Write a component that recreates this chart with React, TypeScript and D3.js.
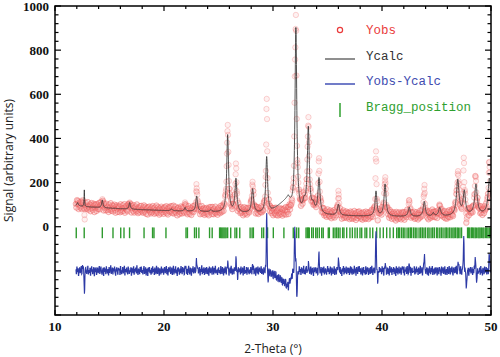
import React from "react";
import * as d3 from "d3";

// ---- axis ticks ----
const xMajorTicks = [10, 20, 30, 40, 50];
const yLabelTicks = [0, 200, 400, 600, 800, 1000];

// ---- background anchors (2-theta, intensity) ----
const bgX = [11.9, 13, 15, 17, 20, 24, 27, 29.6, 31.4, 31.9, 33, 36, 38, 41, 44, 46, 48, 50];
const bgObs = [95, 90, 84, 79, 73, 67, 62, 60, 58, 57, 55, 50, 48, 46, 45, 47, 52, 58];
const bgCalc = [95, 90, 84, 79, 73, 67, 62, 60, 125, 57, 55, 50, 48, 46, 45, 47, 52, 58];

// ---- calculated peaks: position, height above background, FWHM ----
const peakPos = [12.08, 12.69, 14.34, 16.85, 20.7, 21.93, 23.0, 24.3, 25.84, 26.6, 28.13, 29.42, 32.1, 32.85, 33.24, 33.7, 34.22, 36.0, 39.45, 40.28, 42.5, 43.88, 44.7, 45.3, 46.95, 47.55, 48.62, 49.85];
const peakHeight = [15, 75, 35, 30, 8, 16, 70, 8, 350, 150, 108, 255, 840, 40, 385, 35, 160, 50, 112, 145, 42, 68, 15, 38, 160, 105, 135, 160];
const peakFwhm = [0.15, 0.05, 0.14, 0.14, 0.2, 0.16, 0.18, 0.2, 0.2, 0.2, 0.22, 0.2, 0.2, 0.25, 0.22, 0.3, 0.22, 0.22, 0.2, 0.22, 0.22, 0.22, 0.2, 0.25, 0.28, 0.25, 0.28, 0.28];

// ---- misfit spikes in Yobs - Ycalc ----
const spikePos = [12.55, 12.7, 21.95, 23.0, 25.84, 26.6, 26.75, 28.13, 29.42, 29.55, 32.0, 32.1, 32.2, 33.24, 34.22, 36.0, 39.45, 39.6, 40.28, 42.5, 43.88, 47.0, 47.5, 47.75, 48.55, 48.7, 49.85];
const spikeAmp = [25, -85, 15, 50, 30, 55, -30, 20, 260, -40, 200, 40, -125, 30, 70, 60, 175, -40, 25, 30, 70, 40, 150, -90, 60, -50, 80];

// ---- Bragg reflection positions ----
const braggPos = [
  11.95, 12.68, 14.34, 15.32, 16.03, 16.33, 16.84, 18.17, 18.95, 19.08, 20.18, 22.02, 22.15, 22.8, 22.97, 23.2,
  24.18, 24.42, 25.1, 25.2, 25.3, 25.4, 25.5, 25.6, 25.7, 25.84, 26.12, 26.51, 26.67, 26.95, 27.9, 28.08, 28.2,
  28.97, 29.14, 29.42, 29.5, 30.03, 31.0, 31.86, 32.17, 32.36, 33.03, 33.15, 33.25, 33.33, 33.55, 33.7, 33.92,
  34.06, 34.25, 34.47, 34.61, 35.07, 35.17, 35.53, 35.69, 35.84, 35.99, 36.15, 36.39, 36.51, 36.76, 37.06, 37.28,
  37.52, 37.73, 37.98, 38.14, 38.44, 38.6, 38.9, 39.15, 39.51, 39.82, 40.12, 40.43, 40.73, 41.04, 41.35, 41.5,
  41.62, 41.8, 41.95, 42.1, 42.3, 42.45, 42.6, 42.72, 42.9, 43.05, 43.2, 43.4, 43.55, 43.7, 43.85, 44.0, 44.2,
  44.32, 44.5, 44.65, 44.8, 45.0, 45.12, 45.3, 45.45, 45.6, 45.78, 45.9, 46.05, 46.2, 46.35, 46.5, 46.62, 46.75,
  46.9, 47.0, 47.15, 47.3, 47.85, 47.95, 48.05, 48.2, 48.3, 48.42, 48.55, 48.65, 48.8, 48.9, 49.0, 49.12, 49.25,
  49.35, 49.5, 49.6, 49.72, 49.85, 49.95,
];

// ---- observed residual noise (in steps of noiseUnit counts), one value per 0.05 deg from 11.9 ----
const obsStart = 11.9;
const noiseStep = 0.05;
const obsStep = 0.025;
const noiseUnit = 1.4;
const noise = [
  4,-9,12,-3,7,-15,2,10,-6,-1,14,-11,5,-7,9,0,-13,6,11,-4,
  -8,3,15,-10,1,-5,8,-14,6,13,-2,-9,4,11,-16,7,-3,10,-12,2,
  9,-6,-1,14,-8,5,12,-4,-11,3,8,-15,10,-2,6,-9,13,1,-7,4,
  -13,11,-5,2,16,-8,-3,9,-10,7,0,12,-6,-14,5,10,-1,-11,8,3,
  6,-12,14,-4,-9,1,11,-7,3,15,-13,4,-2,9,-5,-10,12,7,-8,0,
  -3,10,-14,8,2,-6,13,-11,5,-1,9,-7,16,-4,-12,6,3,-9,11,-2,
  12,-5,1,-10,7,14,-8,-3,10,-13,4,6,-15,9,-1,11,-6,2,-11,8,
  -7,13,-2,5,-12,9,0,-9,15,-4,-8,10,3,-14,7,1,-10,12,-5,6,
  2,-11,8,11,-6,-1,14,-9,4,-13,10,-3,7,12,-8,-5,9,-12,1,15,
  -10,5,-4,13,-7,3,-15,8,10,-2,-11,6,-6,14,0,-9,11,-3,7,-13,
  8,-1,12,-8,4,-12,6,15,-5,-10,9,2,-14,7,-3,13,-7,1,10,-6,
  -4,14,-11,3,9,-7,0,11,-13,5,-2,16,-9,6,-5,10,-12,4,8,-8,
  11,-3,-9,7,-14,12,2,-6,9,-1,-11,13,5,-10,8,-4,15,-7,-2,3,
  -12,6,10,-5,1,-9,14,-2,-8,11,4,-13,7,-6,12,0,-10,9,-3,13,
  5,-14,3,9,-7,15,-4,-11,6,2,-9,10,-1,-12,8,-5,11,-8,14,-3,
  0,7,-10,12,-6,-2,9,-13,4,14,-8,1,-5,11,-11,6,10,-4,-9,3,
  -6,11,2,-12,8,-3,13,-9,-1,7,-14,10,5,-7,12,-10,3,9,-2,-5,
  13,-8,6,-4,-11,10,1,-6,15,-12,3,8,-2,-9,11,-1,-13,7,4,-10,
  -2,9,-13,5,12,-7,-4,14,-10,2,6,-11,11,-3,-8,13,0,-6,10,-12,
  7,-4,10,-9,3,13,-12,1,-5,9,-15,6,12,-8,2,-3,8,-11,14,-1,
  -9,12,-1,-6,11,-14,5,8,-3,-10,13,-2,4,-12,10,7,-7,-1,15,-8,
  3,-10,9,14,-5,0,-13,11,6,-8,-2,12,-11,4,8,-6,-15,10,-3,5,
  10,-7,-3,8,-12,6,13,-5,-9,1,11,-14,3,9,-4,12,-10,-1,7,-6,
  -11,4,14,-2,7,-9,-6,12,2,-13,9,5,-8,-3,13,-12,6,1,-10,11,
  6,-13,0,10,-4,11,-8,3,-15,7,-1,14,-10,8,-6,-2,12,-9,4,9,
  -5,8,-12,2,13,-7,10,-11,5,-3,-9,15,-4,6,-14,11,2,-8,12,-1,
  14,-2,7,-10,-5,9,-13,4,11,-6,1,-11,13,-9,5,10,-3,-12,8,0,
  -8,11,-6,15,-1,-12,6,9,-4,-10,12,3,-7,14,-13,2,-5,11,-2,7,
  1,-9,13,-3,8,-14,4,-6,10,12,-11,-2,9,-8,6,-13,14,0,-4,10,
  -12,5,-2,11,-9,7,2,-15,13,-5,8,-10,1,12,-7,-3,9,-11,5,13,
  9,-6,12,-13,3,-1,10,-8,14,-4,-11,7,0,-9,11,-14,6,8,-5,-2,
  -3,13,-10,6,-7,12,-2,5,-12,9,3,-8,15,-6,-1,10,-13,4,11,-9,
  12,-1,-8,4,10,-11,7,-14,2,13,-5,-9,8,-3,14,-12,1,6,-10,9,
  -7,10,3,-13,9,-4,-9,11,6,-2,-14,12,-6,5,10,-8,-1,13,-11,2,
  4,-12,11,-5,-8,14,0,-10,8,-3,12,-7,-13,9,2,-6,11,-4,15,-9,
  -10,7,-4,12,1,-9,13,-6,-11,5,10,-2,6,-14,8,-1,-7,14,-3,3,
  8,-14,6,-1,11,-7,-3,10,-12,4,-6,13,-9,2,9,-11,5,12,-8,-4,
  -1,9,-11,14,-6,3,-13,8,5,-9,12,-4,-2,11,-10,7,0,-12,10,-5,
  11,-4,2,-8,13,-12,9,-3,-7,15,-1,-10,6,4,-13,12,-6,8,-9,1,
  -6,12,-9,5,-2,10,-14,7,3,-11,14,-5,9,-8,-4,11,-12,6,2,-7,
];

// ---- legend ----
const legendLabels = ["Yobs", "Ycalc", "Yobs-Ycalc", "Bragg_position"];
const legendColors = ["#ea3b3b", "#333333", "#3e4cb0", "#2fa02f"];

const diffOffset = -200;

export default function App() {
  const W = 500, H = 357;
  const L = 55, R = 491, T = 6, B = 315;
  const x = d3.scaleLinear().domain([10, 50]).range([L, R]);
  const y = d3.scaleLinear().domain([-400, 1000]).range([B, T]);
  const bgO = d3.scaleLinear().domain(bgX).range(bgObs).clamp(true);
  const bgC = d3.scaleLinear().domain(bgX).range(bgCalc).clamp(true);

  const profile = (t: number) =>
    d3.sum(peakPos, (p, i) => {
      const d = (t - p) / (peakFwhm[i] / 2);
      return peakHeight[i] / (1 + d * d);
    });
  const spikes = (t: number) =>
    d3.sum(spikePos, (p, i) => spikeAmp[i] * Math.exp(-((t - p) * (t - p)) / (2 * 0.035 * 0.035)));
  const calcAt = (t: number) => bgC(t) + profile(t);

  const calcPts: [number, number][] = d3.range(obsStart, 50.005, 0.01).map((t) => [t, calcAt(t)]);
  const nObs = Math.round((50 - obsStart) / obsStep) + 1;
  const obsPts = d3.range(nObs).map((i) => {
    const t = obsStart + i * obsStep;
    const n = noise[Math.min(noise.length - 1, Math.floor((i * obsStep) / noiseStep + 1e-6))] * noiseUnit;
    const c = calcAt(t);
    const diff = bgO(t) - bgC(t) + spikes(t) + n;
    return { t, obs: c + diff, diff };
  });

  const line = d3.line<[number, number]>().x((d) => x(d[0])).y((d) => y(d[1]));
  const diffLine = d3
    .line<{ t: number; diff: number }>()
    .x((d) => x(d.t))
    .y((d) => y(d.diff + diffOffset));

  const xMinor = d3.range(10, 50.01, 2);
  const yMajor = d3.range(-400, 1000.1, 200);
  const yMinor = d3.range(-400, 1000.1, 40);

  const tickFont = "'Liberation Serif', 'DejaVu Serif', serif";
  const titleFont = "'Open Sans', 'Noto Sans', sans-serif";
  const monoFont = "'Liberation Mono', 'DejaVu Sans Mono', monospace";

  return (
    <svg width={W} height={H} style={{ position: "absolute", left: 0, top: 0, background: "#fff" }}>
      <defs>
        <clipPath id="plotClip">
          <rect x={L} y={T} width={R - L} height={B - T} />
        </clipPath>
      </defs>
      <rect x={0} y={0} width={W} height={H} fill="#fff" />
      <g clipPath="url(#plotClip)">
        {obsPts.map((p, i) => (
          <circle
            key={i}
            cx={x(p.t)}
            cy={y(p.obs)}
            r={2.7}
            fill="#f6a8a8"
            fillOpacity={0.16}
            stroke="#ea5050"
            strokeOpacity={0.3}
            strokeWidth={0.8}
          />
        ))}
        <path d={line(calcPts) || ""} fill="none" stroke="#333" strokeOpacity={0.85} strokeWidth={1} />
        {braggPos.map((b, i) => (
          <line key={i} x1={x(b)} x2={x(b)} y1={y(-3)} y2={y(-52)} stroke="#2e9a2e" strokeWidth={1.4} />
        ))}
        <path d={diffLine(obsPts) || ""} fill="none" stroke="#2d3aa6" strokeWidth={1.1} />
      </g>

      {/* frame */}
      <rect x={L} y={T} width={R - L} height={B - T} fill="none" stroke="#000" strokeWidth={1.5} />
      {/* x ticks bottom and top */}
      {xMinor.map((v, i) => {
        const major = xMajorTicks.includes(v);
        const len = major ? 5 : 3;
        return (
          <g key={"xt" + i}>
            <line x1={x(v)} x2={x(v)} y1={B} y2={B - len} stroke="#000" strokeWidth={1.2} />
            <line x1={x(v)} x2={x(v)} y1={T} y2={T + len} stroke="#000" strokeWidth={1.2} />
          </g>
        );
      })}
      {/* y ticks left and right */}
      {yMinor.map((v, i) => {
        const major = yMajor.some((m) => Math.abs(m - v) < 1e-6);
        const len = major ? 6 : 3.5;
        return (
          <g key={"yt" + i}>
            <line x1={L} x2={L + len} y1={y(v)} y2={y(v)} stroke="#000" strokeWidth={1.2} />
            <line x1={R} x2={R - len} y1={y(v)} y2={y(v)} stroke="#000" strokeWidth={1.2} />
          </g>
        );
      })}
      {/* tick labels */}
      {xMajorTicks.map((v) => (
        <text key={"xl" + v} x={x(v)} y={331} textAnchor="middle" fontFamily={tickFont} fontWeight="bold" fontSize={13} fill="#111">
          {v}
        </text>
      ))}
      {yLabelTicks.map((v) => (
        <text key={"yl" + v} x={49} y={y(v)} dy="0.35em" textAnchor="end" fontFamily={tickFont} fontWeight="bold" fontSize={13} fill="#111">
          {v}
        </text>
      ))}
      {/* axis titles */}
      <text x={(L + R) / 2} y={353} textAnchor="middle" fontFamily={titleFont} fontSize={12} fill="#222">
        2-Theta (°)
      </text>
      <text
        transform={`translate(13, ${(T + B) / 2}) rotate(-90)`}
        textAnchor="middle"
        fontFamily={titleFont}
        fontSize={12}
        fill="#222"
      >
        Signal (arbitrary units)
      </text>

      {/* legend */}
      <circle cx={340} cy={30} r={2.6} fill="none" stroke={legendColors[0]} strokeWidth={1.2} />
      <line x1={325} x2={355} y1={59} y2={59} stroke="#444" strokeWidth={1.2} />
      <line x1={325} x2={355} y1={84} y2={84} stroke="#3444b0" strokeWidth={1.4} />
      <line x1={340} x2={340} y1={103} y2={117} stroke={legendColors[3]} strokeWidth={1.5} />
      {legendLabels.map((lab, i) => (
        <text key={lab} x={366} y={[33.5, 59.5, 85, 110.5][i]} fontFamily={monoFont} fontSize={12.5} fill={legendColors[i]}>
          {lab}
        </text>
      ))}
    </svg>
  );
}
